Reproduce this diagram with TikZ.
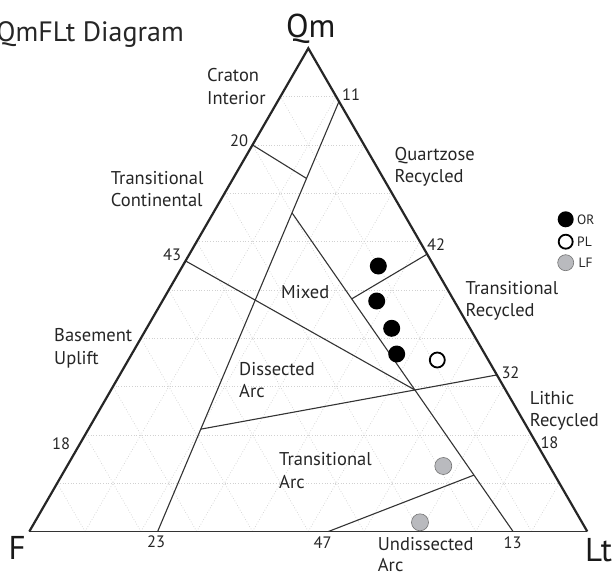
\documentclass[tikz,border=0pt]{standalone}
\usepackage{fontspec}
\setmainfont{PT Sans}
\usetikzlibrary{calc}
\definecolor{lfgray}{RGB}{185,186,190}
\begin{document}
\begin{tikzpicture}[x=1pt,y=-1pt,
  lbl/.style={font=\fontsize{18.5}{22}\selectfont, inner sep=0pt, anchor=base west, text=black!85},
  num/.style={font=\fontsize{16.5}{19}\selectfont, inner sep=0pt, anchor=base west, text=black!85},
  leg/.style={font=\fontsize{13.5}{16}\selectfont, inner sep=0pt, anchor=base west, text=black!85},
  vtx/.style={font=\fontsize{33}{36}\selectfont, inner sep=0pt, text=black!90},
  edgeline/.style={line width=2.2pt, black!85},
  baseline/.style={line width=1.4pt, black!80},
  bnd/.style={line width=1.1pt, black!80},
  gridline/.style={dotted, line width=0.7pt, black!18},
  orpt/.style={circle, fill=black, minimum size=17pt, inner sep=0pt},
  plpt/.style={circle, draw=black, fill=white, line width=1.8pt, minimum size=15pt, inner sep=0pt},
  lfpt/.style={circle, draw=black!55, fill=lfgray, line width=0.6pt, minimum size=17pt, inner sep=0pt}
]
\useasboundingbox (0,0) rectangle (616,573);
\fill[white] (0,0) rectangle (616,573);

% vertices
\coordinate (F) at (29.3,531.5);
\coordinate (Lt) at (587.3,531.5);
\coordinate (Qm) at (308.3,48.3);

% dotted 10% grid
\foreach \k in {1,...,9}{
  \draw[gridline] ($(F)!\k/10!(Qm)$) -- ($(Lt)!\k/10!(Qm)$);
  \draw[gridline] ($(F)!\k/10!(Lt)$) -- ($(Qm)!\k/10!(Lt)$);
  \draw[gridline] ($(Lt)!\k/10!(F)$) -- ($(Qm)!\k/10!(F)$);
}

% points on edges
\coordinate (P20) at ($(F)!0.80!(Qm)$);
\coordinate (P43) at ($(F)!0.56!(Qm)$);
\coordinate (P11) at ($(Qm)!0.11!(Lt)$);
\coordinate (P42) at ($(Qm)!0.426!(Lt)$);
\coordinate (P32) at ($(Lt)!0.324!(Qm)$);
\coordinate (B23) at ($(F)!0.23!(Lt)$);
\coordinate (B47) at ($(F)!0.536!(Lt)$);
\coordinate (B13) at ($(Lt)!0.133!(F)$);
% junctions
\coordinate (J1) at ($(P11)!0.179!(B23)$);
\coordinate (J2) at ($(P11)!0.259!(B23)$);
\coordinate (J5) at ($(P11)!0.762!(B23)$);
\coordinate (J4) at ($(J2)!0.27!(B13)$);
\coordinate (J3) at ($(J2)!0.556!(B13)$);
\coordinate (J6) at ($(J2)!0.823!(B13)$);

% field boundaries
\draw[bnd] (P11) -- (B23);
\draw[bnd] (P20) -- (J1);
\draw[bnd] (J2) -- (B13);
\draw[bnd] (P42) -- (J4);
\draw[bnd] (P43) -- (J3);
\draw[bnd] (P32) -- (J5);
\draw[bnd] (B47) -- (J6);

% triangle
\draw[baseline] (F) -- (Lt);
\draw[edgeline, line join=miter] (F) -- (Qm) -- (Lt);

% vertex labels
\node[vtx, anchor=base] (qmlab) at (310.8,37.3) {Qm};
\node[vtx, anchor=base west] (flab) at (8.5,559.3) {F};
\node[vtx, anchor=base west] (ltlab) at (585,561.7) {Lt};
\node[font=\fontsize{28}{32}\selectfont, inner sep=0pt, anchor=base east, text=black!85] (title) at (184,41.7) {QmFLt Diagram};

% field labels
\node[lbl] (cr1) at (207,81.7) {Craton};
\node[lbl] (cr2) at (207,104) {Interior};
\node[lbl] (tc1) at (110.7,184) {Transitional};
\node[lbl] (tc2) at (110.7,206.5) {Continental};
\node[lbl] (qr1) at (394.5,160.7) {Quartzose};
\node[lbl] (qr2) at (394.5,182.7) {Recycled};
\node[lbl] (mx) at (281,298) {Mixed};
\node[lbl] (tr1) at (465.5,294) {Transitional};
\node[lbl] (tr2) at (465.5,316.7) {Recycled};
\node[lbl] (bu1) at (54,341.7) {Basement};
\node[lbl] (bu2) at (54,364) {Uplift};
\node[lbl] (da1) at (239,375) {Dissected};
\node[lbl] (da2) at (239,397.3) {Arc};
\node[lbl] (lr1) at (529.7,404.5) {Lithic};
\node[lbl] (lr2) at (529.7,426.7) {Recycled};
\node[lbl] (ta1) at (279,465) {Transitional};
\node[lbl] (ta2) at (279,488.3) {Arc};
\node[lbl] (ua1) at (377.7,550) {Undissected};
\node[lbl] (ua2) at (377.7,571) {Arc};

% numbers
\node[num] (n11) at (342,100) {11};
\node[num] (n20) at (230,146.7) {20};
\node[num] (n43) at (163,260) {43};
\node[num] (n42) at (427,250.7) {42};
\node[num] (n32) at (501.3,378.3) {32};
\node[num] (n18a) at (52,449.3) {18};
\node[num] (n18b) at (540.3,448.3) {18};
\node[num] (n23) at (147,547.7) {23};
\node[num] (n47) at (313.5,548.3) {47};
\node[num] (n13) at (503.5,548) {13};

% data points
\node[orpt] (or1) at (378.3,266) {};
\node[orpt] (or2) at (376.7,301) {};
\node[orpt] (or3) at (391.7,328.3) {};
\node[orpt] (or4) at (396.7,354) {};
\node[plpt] (pl1) at (437.3,360) {};
\node[lfpt] (lf1) at (443.3,466) {};
\node[lfpt] (lf2) at (420,522.3) {};

% legend
\node[orpt, minimum size=16pt] (legor) at (565.7,219.3) {};
\node[plpt, minimum size=14pt] (legpl) at (565.7,241.7) {};
\node[lfpt, minimum size=16pt] (leglf) at (565.7,262.7) {};
\node[leg] (tor) at (577,224) {OR};
\node[leg] (tpl) at (577,246.3) {PL};
\node[leg] (tlf) at (578.5,267.3) {LF};
\end{tikzpicture}
\end{document}
